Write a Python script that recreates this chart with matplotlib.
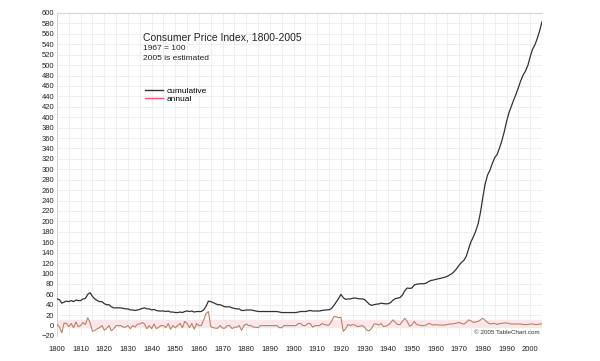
import numpy as np
import matplotlib

matplotlib.use("Agg")
from matplotlib import pyplot as plt
from matplotlib.lines import Line2D
from matplotlib.ticker import MultipleLocator

plt.rcParams["font.family"] = ["Liberation Sans", "DejaVu Sans"]

years = np.arange(1800, 2006)

# CPI, 1967 = 100
cumulative = [
    51, 50, 43, 45, 47, 46, 48, 46, 49, 48,
    48, 51, 52, 60, 63, 56, 51, 48, 46, 46,
    42, 40, 40, 36, 34, 34, 34, 34, 33, 32,
    32, 30, 30, 29, 30, 31, 33, 34, 32, 32,
    30, 31, 29, 28, 28, 28, 27, 28, 26, 26,
    25, 25, 26, 25, 27, 28, 27, 28, 26, 27,
    27, 27, 30, 37, 47, 46, 44, 42, 40, 40,
    38, 36, 36, 36, 34, 33, 32, 32, 29, 29,
    30, 30, 30, 29, 28, 27, 27, 27, 27, 27,
    27, 27, 27, 27, 26, 25, 25, 25, 25, 25,
    25, 25, 26, 27, 27, 27, 28, 29, 28, 28,
    28, 28, 29, 29.7, 30.1, 30.4, 32.7, 38.4, 45.1, 51.8,
    60.0, 53.6, 50.2, 51.1, 51.2, 52.5, 53.0, 52.0, 51.3, 51.3,
    50.0, 45.6, 40.9, 38.8, 40.1, 41.1, 41.5, 43.0, 42.2, 41.6,
    42.0, 44.1, 48.8, 51.8, 52.7, 53.9, 58.5, 66.9, 72.1, 71.4,
    72.1, 77.8, 79.5, 80.1, 80.5, 80.2, 81.4, 84.3, 86.6, 87.3,
    88.7, 89.6, 90.6, 91.7, 92.9, 94.5, 97.2, 100.0, 104.2, 109.8,
    116.3, 121.3, 125.3, 133.1, 147.7, 161.2, 170.5, 181.5, 195.4, 217.4,
    246.8, 272.4, 289.1, 298.4, 311.1, 322.2, 328.4, 340.4, 354.3, 371.3,
    391.4, 408.0, 420.3, 432.7, 444.0, 456.5, 469.9, 480.8, 488.3, 499.0,
    515.8, 530.4, 538.8, 551.1, 565.8, 583.0,
]

# annual change, percent
annual = [
    2, -2, -14, 5, 4, -2, 4, -4, 7, -2,
    0, 6, 2, 15, 5, -11, -9, -6, -4, 0,
    -9, -5, 0, -10, -6, 0, 0, 0, -3, -3,
    0, -6, 0, -3, 3, 3, 6, 3, -6, 0,
    -6, 3, -6, -3, 0, 0, -4, 4, -7, 0,
    -4, 0, 4, -4, 8, 4, -4, 4, -7, 4,
    0, 0, 11, 23, 27, -2, -4, -5, -5, 0,
    -5, -5, 0, 0, -6, -3, -3, 0, -9, 0,
    3, 0, 0, -3, -3, -4, 0, 0, 0, 0,
    0, 0, 0, 0, -4, -4, 0, 0, 0, 0,
    0, 0, 4, 4, 0, 0, 4, 4, -3, 0,
    0, 0, 4, 2, 1, 1, 8, 17, 17, 15,
    16, -11, -6, 2, 0, 2, 1, -2, -1, 0,
    -3, -9, -10, -5, 3, 3, 1, 4, -2, -1,
    1, 5, 11, 6, 2, 2, 8, 14, 8, -1,
    1, 8, 2, 1, 0, 0, 1, 4, 3, 1,
    2, 1, 1, 1, 1, 2, 3, 3, 4, 5,
    6, 4, 3, 6, 11, 9, 6, 7, 8, 11,
    14, 10, 6, 3, 4, 4, 2, 4, 4, 5,
    5, 4, 3, 3, 3, 3, 3, 2, 2, 2,
    3, 3, 2, 2, 3, 3,
]

figure = plt.figure(figsize=(6.0, 3.61), dpi=100)
axis = figure.add_axes([57 / 600, 25 / 361, 485 / 600, 323 / 361])

axis.axhspan(-3, 10, color="#fde6ea", zorder=0)
axis.plot(years, annual, color="#b98265", linewidth=0.8, zorder=3)
axis.plot(years, cumulative, color="#333333", linewidth=0.9, zorder=4)

axis.set_xlim(1800, 2005)
axis.set_ylim(-20, 600)
axis.xaxis.set_major_locator(MultipleLocator(10))
axis.xaxis.set_minor_locator(MultipleLocator(5))
axis.yaxis.set_major_locator(MultipleLocator(20))
axis.set_yticks(np.arange(-20, 601, 100), minor=True)

axis.grid(which="major", axis="y", color="#ececec", linewidth=0.6)
axis.grid(which="minor", axis="y", color="#d6d6d6", linewidth=0.8)
axis.grid(which="both", axis="x", color="#ececec", linewidth=0.6)
axis.set_axisbelow(True)

axis.tick_params(which="both", length=0, labelsize=5.5, colors="#222222", pad=2)
axis.tick_params(axis="x", pad=7)
for spine in axis.spines.values():
    spine.set_visible(False)
axis.spines["left"].set_visible(True)
axis.spines["left"].set_color("#d6d6d6")
axis.spines["top"].set_visible(True)
axis.spines["top"].set_color("#d6d6d6")

figure.text(143 / 600, 1 - 38 / 361, "Consumer Price Index, 1800-2005",
            fontsize=7.5, color="#222222", va="center")
figure.text(143 / 600, 1 - 48 / 361, "1967 = 100",
            fontsize=6, color="#222222", va="center")
figure.text(143 / 600, 1 - 58 / 361, "2005 is estimated",
            fontsize=6, color="#222222", va="center")

handles = [
    Line2D([], [], color="#333333", linewidth=1.0),
    Line2D([], [], color="#ff4d6d", linewidth=1.0),
]
axis.legend(
    handles,
    ["cumulative", "annual"],
    loc="upper left",
    bbox_to_anchor=(139 / 600, 1 - 81 / 361),
    bbox_transform=figure.transFigure,
    frameon=False,
    fontsize=6,
    handlelength=2.2,
    handletextpad=0.4,
    labelspacing=0.05,
    borderpad=0.2,
)

axis.text(0.995, 0.012, "© 2005 TableChart.com", transform=axis.transAxes,
          fontsize=4.5, color="#333333", ha="right", va="center")

figure.savefig("out.png", dpi=100)
plt.close(figure)
